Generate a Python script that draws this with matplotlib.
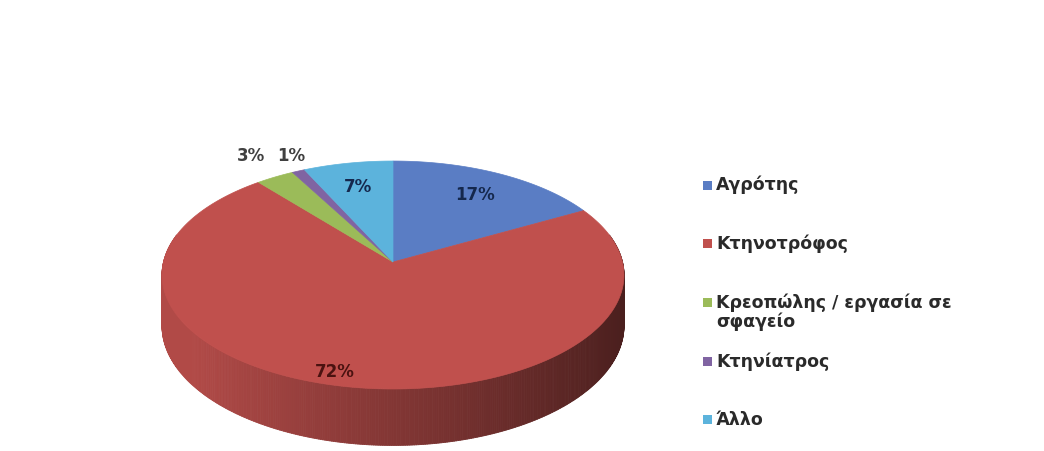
import numpy as np
import matplotlib.pyplot as plt
from matplotlib.collections import PolyCollection
from matplotlib.patches import Polygon, Rectangle

# occupation shares (%)
categories = ['Αγρότης', 'Κτηνοτρόφος', 'Κρεοπώλης / εργασία σε\nσφαγείο',
              'Κτηνίατρος', 'Άλλο']
shares = [17, 72, 3, 1, 7]
colors = ['#5a7dc4', '#c0504d', '#9bbb59', '#8064a2', '#5cb3dc']
label_colors = ['#15284d', '#4a1210', '#404040', '#404040', '#15284d']

# label placement: radius fraction and pixel nudge
label_r = [0.75, 0.92, 1.25, 1.25, 0.75]
label_nudge = [(0, 0), (-14, -4), (2, -3), (14, 4), (0, 0)]

W, H = 1044, 452
fig = plt.figure(figsize=(W / 100, H / 100), dpi=100)
ax = fig.add_axes([0, 0, 1, 1])
ax.set_xlim(0, W)
ax.set_ylim(H, 0)
ax.axis('off')

# pie geometry (pixels), simple perspective
cx, cy = 393, 263
rx, ry = 229.5, 112.5
depth = 50
persp = 8.76


def project(phi, r=1.0, drop=0.0):
    X = r * np.sin(phi)
    Z = -r * np.cos(phi)
    k = persp / (persp - Z)
    return cx + rx * X * k, cy + (ry * Z + drop) * k


def shade(color, f):
    rgb = np.array(plt.matplotlib.colors.to_rgb(color))
    return tuple(np.clip(rgb * f, 0, 1))


fracs = np.array(shares) / np.sum(shares)
bounds = np.concatenate([[0], np.cumsum(fracs)]) * 2 * np.pi

# side wall, far segments first
quads, qcols, qz = [], [], []
for i in range(len(shares)):
    a0, a1 = bounds[i], bounds[i + 1]
    n = max(2, int(np.degrees(a1 - a0) / 0.5))
    t = np.linspace(a0, a1, n + 1)
    for p, q in zip(t[:-1], t[1:]):
        m = 0.5 * (p + q)
        if -np.cos(m) < -0.25:
            continue
        x0, y0 = project(p)
        x1, y1 = project(q)
        x2, y2 = project(q, drop=depth)
        x3, y3 = project(p, drop=depth)
        quads.append([(x0, y0), (x1, y1), (x2, y2), (x3, y3)])
        f = min(0.92, 0.68 - 0.3 * np.sin(m))
        qcols.append(shade(colors[i], f))
        qz.append(-np.cos(m))
order = np.argsort(qz)
pc = PolyCollection([quads[j] for j in order], facecolors=[qcols[j] for j in order],
                    edgecolors=[qcols[j] for j in order], linewidths=0.6)
ax.add_collection(pc)

# top surface
for i in range(len(shares)):
    t = np.linspace(bounds[i], bounds[i + 1], 200)
    xs, ys = project(t)
    pts = [(cx, cy)] + list(zip(xs, ys))
    ax.add_patch(Polygon(pts, closed=True, facecolor=colors[i],
                         edgecolor=colors[i], linewidth=0.5))

# percentage labels
for i, v in enumerate(shares):
    m = 0.5 * (bounds[i] + bounds[i + 1])
    x, y = project(m, r=label_r[i])
    dx, dy = label_nudge[i]
    ax.text(x + dx, y + dy, f'{v}%', ha='center', va='center', fontsize=12,
            fontweight='bold', color=label_colors[i], family='DejaVu Sans')

# legend
ly0, lstep = 186, 58.7
for i, name in enumerate(categories):
    y = ly0 + i * lstep
    ax.add_patch(Rectangle((703, y - 4.5), 9, 9, facecolor=colors[i], edgecolor='none'))
    ax.text(716, y - 10, name, ha='left', va='top', fontsize=12.5, fontweight='bold',
            color='#2a2a2a', family='DejaVu Sans', linespacing=1.05)

fig.savefig('out.png', dpi=100, facecolor='white')
